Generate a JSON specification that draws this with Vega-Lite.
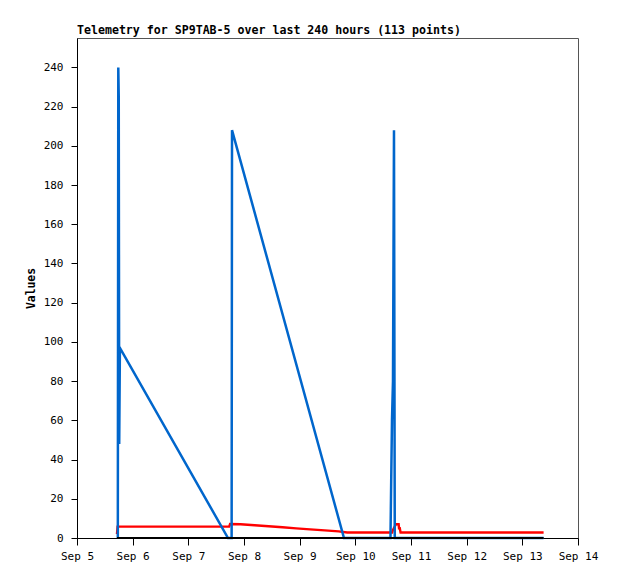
{
  "$schema": "https://vega.github.io/schema/vega-lite/v6.json",
  "width": 501,
  "height": 500,
  "autosize": {"type": "none"},
  "padding": {"left": 77, "top": 38, "right": 40, "bottom": 41},
  "background": "white",
  "title": {
    "text": "Telemetry for SP9TAB-5 over last 240 hours (113 points)",
    "anchor": "start",
    "frame": "group",
    "font": "DejaVu Sans Mono",
    "fontSize": 11.6,
    "fontWeight": "bold",
    "color": "black",
    "baseline": "bottom",
    "offset": -10
  },
  "config": {
    "view": {"stroke": "#555555", "strokeWidth": 1},
    "axis": {
      "grid": false,
      "domainColor": "black",
      "tickColor": "black",
      "labelColor": "black",
      "labelFont": "DejaVu Sans Mono",
      "labelFontSize": 11,
      "titleFont": "DejaVu Sans Mono",
      "titleFontSize": 11.4,
      "titleFontWeight": "bold",
      "titleColor": "black"
    }
  },
  "data": {
    "values": [
      {"t": "2024-09-05T17:14:00", "v": 0, "s": "black"},
      {"t": "2024-09-13T09:10:00", "v": 0, "s": "black"},

      {"t": "2024-09-05T17:14:00", "v": 2, "s": "red"},
      {"t": "2024-09-05T17:30:00", "v": 5.8, "s": "red"},
      {"t": "2024-09-06T12:00:00", "v": 5.8, "s": "red"},
      {"t": "2024-09-07T12:00:00", "v": 5.8, "s": "red"},
      {"t": "2024-09-07T17:36:00", "v": 5.8, "s": "red"},
      {"t": "2024-09-07T18:00:00", "v": 7.1, "s": "red"},
      {"t": "2024-09-07T22:30:00", "v": 7.0, "s": "red"},
      {"t": "2024-09-08T04:36:00", "v": 6.5, "s": "red"},
      {"t": "2024-09-08T10:36:00", "v": 6.0, "s": "red"},
      {"t": "2024-09-08T16:36:00", "v": 5.5, "s": "red"},
      {"t": "2024-09-08T22:30:00", "v": 4.9, "s": "red"},
      {"t": "2024-09-09T04:30:00", "v": 4.4, "s": "red"},
      {"t": "2024-09-09T10:48:00", "v": 3.9, "s": "red"},
      {"t": "2024-09-09T16:48:00", "v": 3.4, "s": "red"},
      {"t": "2024-09-09T20:30:00", "v": 2.8, "s": "red"},
      {"t": "2024-09-10T15:50:00", "v": 2.8, "s": "red"},
      {"t": "2024-09-10T16:10:00", "v": 4.0, "s": "red"},
      {"t": "2024-09-10T17:30:00", "v": 7.0, "s": "red"},
      {"t": "2024-09-10T18:40:00", "v": 7.0, "s": "red"},
      {"t": "2024-09-10T18:50:00", "v": 5.0, "s": "red"},
      {"t": "2024-09-10T19:10:00", "v": 5.0, "s": "red"},
      {"t": "2024-09-10T19:30:00", "v": 2.8, "s": "red"},
      {"t": "2024-09-12T00:00:00", "v": 2.8, "s": "red"},
      {"t": "2024-09-13T09:10:00", "v": 2.8, "s": "red"},

      {"t": "2024-09-05T17:36:00", "v": 0, "s": "blue"},
      {"t": "2024-09-05T17:48:00", "v": 240, "s": "blue"},
      {"t": "2024-09-05T18:00:00", "v": 225, "s": "blue"},
      {"t": "2024-09-05T18:12:00", "v": 48, "s": "blue"},
      {"t": "2024-09-05T18:30:00", "v": 97, "s": "blue"},
      {"t": "2024-09-07T17:06:00", "v": 0, "s": "blue"},
      {"t": "2024-09-07T18:40:00", "v": 0, "s": "blue"},
      {"t": "2024-09-07T18:50:00", "v": 208, "s": "blue"},
      {"t": "2024-09-09T19:06:00", "v": 0, "s": "blue"},
      {"t": "2024-09-10T15:09:00", "v": 0, "s": "blue"},
      {"t": "2024-09-10T15:22:00", "v": 20, "s": "blue"},
      {"t": "2024-09-10T15:48:00", "v": 60, "s": "blue"},
      {"t": "2024-09-10T16:14:00", "v": 80, "s": "blue"},
      {"t": "2024-09-10T16:40:00", "v": 208, "s": "blue"},
      {"t": "2024-09-10T17:00:00", "v": 0, "s": "blue"},
      {"t": "2024-09-13T09:10:00", "v": 0, "s": "blue"}
    ]
  },
  "encoding": {
    "x": {
      "field": "t",
      "type": "temporal",
      "scale": {
        "domain": [
          {"year": 2024, "month": 9, "date": 5},
          {"year": 2024, "month": 9, "date": 14}
        ],
        "nice": false
      },
      "axis": {
        "title": null,
        "format": "%b %-d",
        "tickCount": {"interval": "day", "step": 1},
        "tickSize": 7,
        "labelPadding": 5,
        "labelFlush": false,
        "labelOverlap": false
      }
    },
    "y": {
      "field": "v",
      "type": "quantitative",
      "scale": {"domain": [0, 255], "nice": false},
      "axis": {
        "title": "Values",
        "values": [0, 20, 40, 60, 80, 100, 120, 140, 160, 180, 200, 220, 240],
        "tickSize": 6,
        "labelPadding": 8,
        "titleX": -46,
        "titleY": 250,
        "titleAngle": 270,
        "titleAlign": "center",
        "titleBaseline": "middle"
      }
    }
  },
  "layer": [
    {
      "transform": [{"filter": "datum.s === 'red'"}],
      "mark": {"type": "line", "color": "#ff0000", "strokeWidth": 2.4}
    },
    {
      "transform": [{"filter": "datum.s === 'blue'"}],
      "mark": {"type": "line", "color": "#0066cc", "strokeWidth": 2.5}
    },
    {
      "transform": [{"filter": "datum.s === 'black'"}],
      "mark": {"type": "line", "color": "#000000", "strokeWidth": 2.2}
    }
  ]
}
